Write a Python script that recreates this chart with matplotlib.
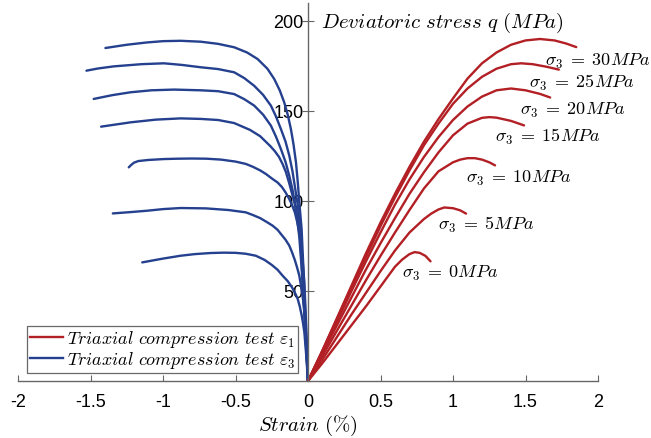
import matplotlib
matplotlib.use("Agg")
import matplotlib.pyplot as plt
from matplotlib.lines import Line2D

plt.rcParams['font.family'] = ['Liberation Sans', 'DejaVu Sans']
plt.rcParams['mathtext.fontset'] = 'cm'
plt.rcParams['axes.unicode_minus'] = False

# ---------------- data ----------------
confining = [0, 5, 10, 15, 20, 25, 30]  # sigma_3 in MPa

# axial strain epsilon_1 (%) vs deviatoric stress q (MPa)
e1_x_0 = [0, 0.1, 0.2, 0.3, 0.4, 0.5, 0.55, 0.6, 0.65, 0.7, 0.735, 0.77, 0.81, 0.845]
e1_y_0 = [0, 10, 20.5, 31, 41.5, 52.5, 58, 63.5, 67.5, 70.5, 71.6, 71.2, 69.5, 66.5]
e1_x_5 = [0, 0.1, 0.2, 0.3, 0.4, 0.5, 0.6, 0.7, 0.8, 0.85, 0.9, 0.94, 1.0, 1.05, 1.09]
e1_y_5 = [0, 12, 24.5, 37, 49, 61, 72.5, 82.5, 90, 93, 95.3, 96.4, 96, 94.8, 93]
e1_x_10 = [0, 0.1, 0.2, 0.3, 0.4, 0.5, 0.6, 0.7, 0.8, 0.9, 1.0, 1.05, 1.1, 1.15, 1.2, 1.25, 1.29]
e1_y_10 = [0, 14, 28, 42, 56, 69.5, 82.5, 95, 107, 116.5, 121.5, 123, 123.8, 123.8, 123, 121.5, 119.8]
e1_x_15 = [0, 0.1, 0.2, 0.3, 0.4, 0.5, 0.6, 0.7, 0.8, 0.9, 1.0, 1.1, 1.2, 1.25, 1.3, 1.4, 1.49]
e1_y_15 = [0, 15.5, 31, 46.5, 62, 76.5, 90.5, 104, 116, 127, 136.5, 143, 146.2, 146.6, 146.3, 144.5, 142]
e1_x_20 = [0, 0.1, 0.2, 0.3, 0.4, 0.5, 0.6, 0.7, 0.8, 0.9, 1.0, 1.1, 1.2, 1.3, 1.4, 1.5, 1.6, 1.67]
e1_y_20 = [0, 16.5, 33, 50, 66.5, 82.5, 98, 112, 124.5, 135.5, 145, 152.5, 158, 161.5, 162.5, 161.5, 159.5, 157.5]
e1_x_25 = [0, 0.1, 0.2, 0.3, 0.4, 0.5, 0.6, 0.7, 0.8, 0.9, 1.0, 1.1, 1.2, 1.3, 1.4, 1.47, 1.55, 1.65, 1.73]
e1_y_25 = [0, 17, 34.5, 52, 69, 86, 102, 117, 131, 143, 154, 162.5, 169, 173.5, 176, 176.5, 176, 174.5, 173]
e1_x_30 = [0, 0.1, 0.2, 0.3, 0.4, 0.5, 0.6, 0.7, 0.8, 0.9, 1.0, 1.1, 1.2, 1.3, 1.4, 1.5, 1.6, 1.7, 1.78, 1.85]
e1_y_30 = [0, 17, 35, 53, 71, 88, 104, 119, 133, 145.5, 157, 168, 176.5, 182.5, 186.8, 189.2, 190, 189.2, 187.5, 185.5]

# lateral strain epsilon_3 (%) vs deviatoric stress q (MPa)
e3_x_0 = [0, -0.012, -0.025, -0.035, -0.045, -0.057, -0.071, -0.09, -0.11, -0.14, -0.175, -0.21, -0.25,
          -0.3, -0.36, -0.43, -0.5, -0.58, -0.671, -0.78, -0.878, -1.0, -1.143]
e3_y_0 = [0, 14, 27, 32.5, 37, 41.5, 45.6, 49, 52, 55.5, 58.5, 61.8, 64.5,
          67.3, 69.6, 70.7, 71.2, 71.3, 71.1, 70.5, 69.6, 68, 65.9]
e3_x_5 = [0, -0.01, -0.021, -0.04, -0.06, -0.075, -0.09, -0.11, -0.129, -0.155, -0.18, -0.21, -0.244,
          -0.29, -0.33, -0.38, -0.429, -0.55, -0.705, -0.878, -1.0, -1.109, -1.23, -1.346]
e3_y_5 = [0, 18, 36.3, 49, 58.5, 63, 67, 71.5, 75.2, 78.5, 81, 84, 86.3,
          88.6, 90.5, 92.2, 93.7, 95, 95.9, 96.1, 95.5, 94.6, 93.8, 93.1]
e3_x_10 = [0, -0.012, -0.025, -0.04, -0.06, -0.075, -0.09, -0.11, -0.129, -0.155, -0.18, -0.21, -0.244,
           -0.29, -0.33, -0.38, -0.429, -0.5, -0.6, -0.7, -0.8, -0.9, -0.994, -1.1, -1.17, -1.2, -1.22, -1.236]
e3_y_10 = [0, 30, 54.8, 70, 82.6, 88.5, 93.5, 97.8, 101.1, 104.8, 107.8, 110.3, 112.2,
           115, 117, 119, 120.6, 121.9, 123, 123.5, 123.6, 123.5, 123.3, 122.8, 122.2, 121.3, 120, 118.7]
e3_x_15 = [0, -0.012, -0.025, -0.04, -0.055, -0.071, -0.09, -0.11, -0.13, -0.152, -0.175, -0.2, -0.23, -0.26,
           -0.33, -0.4, -0.509, -0.62, -0.74, -0.878, -1.05, -1.224, -1.427]
e3_y_15 = [0, 22, 45, 65, 80, 90, 98, 104, 110, 116, 120.5, 124.5, 127.8, 130.5,
           136, 139.5, 143.3, 145, 145.6, 145.9, 145.2, 143.7, 141.3]
e3_x_20 = [0, -0.015, -0.03, -0.045, -0.06, -0.083, -0.105, -0.129, -0.155, -0.187, -0.22, -0.256,
           -0.31, -0.371, -0.44, -0.509, -0.62, -0.74, -0.924, -1.08, -1.224, -1.35, -1.478]
e3_y_20 = [0, 22, 44, 64, 80, 95.6, 105.5, 114, 121.7, 128.9, 135.6, 141.9,
           148, 153, 156.6, 159.4, 161, 161.5, 161.9, 161.5, 160.4, 158.8, 156.7]
e3_x_25 = [0, -0.013, -0.026, -0.04, -0.06, -0.073, -0.088, -0.107, -0.129, -0.155, -0.187, -0.22, -0.256,
           -0.31, -0.371, -0.44, -0.509, -0.62, -0.74, -0.87, -0.994, -1.15, -1.339, -1.45, -1.528]
e3_y_25 = [0, 20, 40, 60, 90, 99, 106.7, 116.5, 125.2, 133, 140, 146.8, 153,
           159, 164, 168.3, 171.5, 173.3, 174.3, 175.6, 176.5, 176, 174.8, 173.6, 172.4]
e3_x_30 = [0, -0.01, -0.021, -0.032, -0.044, -0.06, -0.07, -0.083, -0.1, -0.118, -0.14, -0.164, -0.195,
           -0.233, -0.28, -0.348, -0.42, -0.509, -0.62, -0.74, -0.878, -1.0, -1.109, -1.25, -1.397]
e3_y_30 = [0, 20, 42, 63, 84.4, 99.3, 110, 121.5, 131.5, 140, 148, 154.8, 161.5,
           167.8, 173.5, 178.9, 182.5, 185.4, 187.3, 188.5, 189, 188.8, 188.1, 186.8, 185]

e1_curves = [(e1_x_0, e1_y_0), (e1_x_5, e1_y_5), (e1_x_10, e1_y_10), (e1_x_15, e1_y_15),
             (e1_x_20, e1_y_20), (e1_x_25, e1_y_25), (e1_x_30, e1_y_30)]
e3_curves = [(e3_x_0, e3_y_0), (e3_x_5, e3_y_5), (e3_x_10, e3_y_10), (e3_x_15, e3_y_15),
             (e3_x_20, e3_y_20), (e3_x_25, e3_y_25), (e3_x_30, e3_y_30)]

label_x = [0.648, 0.897, 1.093, 1.288, 1.461, 1.526, 1.636]
label_y = [60.4, 87.2, 112.8, 136.3, 151.1, 166.0, 178.0]

x_ticks = [-2, -1.5, -1, -0.5, 0, 0.5, 1, 1.5, 2]
x_tick_labels = ['-2', '-1.5', '-1', '-0.5', '0', '0.5', '1', '1.5', '2']
y_ticks = [50, 100, 150, 200]

legend_labels = [r'$Triaxial\ compression\ test\ \varepsilon_1$',
                 r'$Triaxial\ compression\ test\ \varepsilon_3$']

RED = '#B21F24'
BLUE = '#24408E'
AX = '#666666'

# ---------------- figure ----------------
fig = plt.figure(figsize=(6.51, 4.39), dpi=100)
ax = fig.add_axes([18/651, (439-382)/439, 580/651, 378/439])

for (xs, ys) in e3_curves:
    ax.plot(xs, ys, color=BLUE, lw=1.7, solid_capstyle='round', solid_joinstyle='round')
for (xs, ys) in e1_curves:
    ax.plot(xs, ys, color=RED, lw=1.7, solid_capstyle='round', solid_joinstyle='round')

for s, lx, ly in zip(confining, label_x, label_y):
    ax.text(lx, ly, r'$\sigma_3\;=\;%dMPa$' % s, fontsize=13, ha='left', va='center', clip_on=False)

ax.set_xlim(-2, 2)
ax.set_ylim(0, 210)

ax.spines['left'].set_position(('data', 0))
ax.spines['bottom'].set_position(('data', 0))
ax.spines['top'].set_visible(False)
ax.spines['right'].set_visible(False)
for sp in ('left', 'bottom'):
    ax.spines[sp].set_color(AX)
    ax.spines[sp].set_linewidth(1.0)

ax.set_xticks(x_ticks)
ax.set_xticklabels(x_tick_labels)
ax.set_yticks(y_ticks)
ax.tick_params(axis='x', direction='in', length=4.5, width=0.8, color=AX, labelsize=13, pad=8.5)
ax.tick_params(axis='y', direction='inout', length=9, width=0.8, color=AX, labelsize=13, pad=-1.5)

ax.text(0.09, 199.4, r'$Deviatoric\ stress\ q\ (MPa)$', fontsize=15, ha='left', va='center')
ax.text(0, -24.5, r'$Strain\ (\%)$', fontsize=15, ha='center', va='center', clip_on=False)

handles = [Line2D([], [], color=RED, lw=1.7), Line2D([], [], color=BLUE, lw=1.7)]
leg = ax.legend(handles, legend_labels, loc='lower left', bbox_to_anchor=(0.0155, 0.021),
                borderaxespad=0, fontsize=13, frameon=True, fancybox=False,
                handlelength=1.85, handletextpad=0.2, labelspacing=0.0, borderpad=0.15)
leg.get_frame().set_edgecolor('#444444')
leg.get_frame().set_linewidth(0.9)

fig.savefig('out.png', dpi=100)
